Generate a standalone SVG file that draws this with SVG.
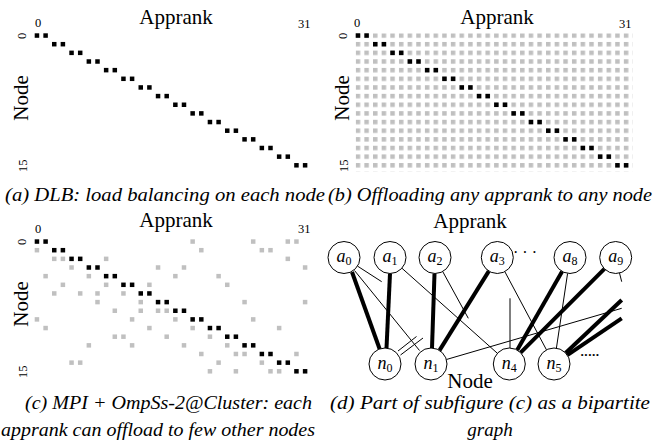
<svg xmlns="http://www.w3.org/2000/svg" width="655" height="446" viewBox="0 0 655 446" font-family="'Liberation Serif', 'Times New Roman', Times, Tinos, 'Noto Serif', 'DejaVu Serif', serif">
  <style>
    text { font-family: 'Liberation Serif', 'Times New Roman', Times, Tinos, 'Noto Serif', 'DejaVu Serif', serif; fill: #000; }
    .title { font-size: 21px; text-anchor: middle; }
    .num { font-size: 12.5px; }
    .cap { font-size: 19px; font-style: italic; }
    .g { fill: #c0c0c0; }
    .k { fill: #000; }
    .node circle { fill: #fff; stroke: #000; stroke-width: 1; }
    .node text { font-size: 18px; font-style: italic; text-anchor: middle; }
    .node tspan.sub { font-size: 12px; font-style: normal; }
    .thin { stroke: #000; stroke-width: 1; fill: none; }
    .thick { stroke: #000; stroke-width: 4; fill: none; }
  </style>
  <defs>
    <rect id="c" width="0.52" height="0.52"/>
    <pattern id="grid" patternUnits="userSpaceOnUse" width="1" height="1">
      <rect width="0.52" height="0.52" fill="#c0c0c0"/>
    </pattern>
  </defs>
  <rect width="655" height="446" fill="#fff"/>

  <!-- (a) DLB -->
  <g id="panel-a">
    <text class="title" x="176" y="24">Apprank</text>
    <text class="num" x="35" y="27">0</text>
    <text class="num" x="298" y="28">31</text>
    <text class="num" transform="translate(26,39) rotate(-90)">0</text>
    <text class="num" transform="translate(27,172) rotate(-90)">15</text>
    <text class="title" transform="translate(28,98) rotate(-90)">Node</text>
    <g class="k" transform="translate(34.7,33.3) scale(8.65)">
      <use href="#c" x="0" y="0"/><use href="#c" x="1" y="0"/>
      <use href="#c" x="2" y="1"/><use href="#c" x="3" y="1"/>
      <use href="#c" x="4" y="2"/><use href="#c" x="5" y="2"/>
      <use href="#c" x="6" y="3"/><use href="#c" x="7" y="3"/>
      <use href="#c" x="8" y="4"/><use href="#c" x="9" y="4"/>
      <use href="#c" x="10" y="5"/><use href="#c" x="11" y="5"/>
      <use href="#c" x="12" y="6"/><use href="#c" x="13" y="6"/>
      <use href="#c" x="14" y="7"/><use href="#c" x="15" y="7"/>
      <use href="#c" x="16" y="8"/><use href="#c" x="17" y="8"/>
      <use href="#c" x="18" y="9"/><use href="#c" x="19" y="9"/>
      <use href="#c" x="20" y="10"/><use href="#c" x="21" y="10"/>
      <use href="#c" x="22" y="11"/><use href="#c" x="23" y="11"/>
      <use href="#c" x="24" y="12"/><use href="#c" x="25" y="12"/>
      <use href="#c" x="26" y="13"/><use href="#c" x="27" y="13"/>
      <use href="#c" x="28" y="14"/><use href="#c" x="29" y="14"/>
      <use href="#c" x="30" y="15"/><use href="#c" x="31" y="15"/>
    </g>
    <text class="cap" x="5" y="201" textLength="320" lengthAdjust="spacingAndGlyphs">(a) DLB: load balancing on each node</text>
  </g>

  <!-- (b) offloading anywhere -->
  <g id="panel-b">
    <text class="title" x="497" y="24">Apprank</text>
    <text class="num" x="354" y="27">0</text>
    <text class="num" x="619" y="28">31</text>
    <text class="num" transform="translate(347,39) rotate(-90)">0</text>
    <text class="num" transform="translate(348,172) rotate(-90)">15</text>
    <text class="title" transform="translate(349,98) rotate(-90)">Node</text>
    <g transform="translate(355.7,33.3) scale(8.65)">
      <rect width="32" height="16" fill="url(#grid)"/>
      <g class="k">
        <use href="#c" x="0" y="0"/><use href="#c" x="1" y="0"/>
        <use href="#c" x="2" y="1"/><use href="#c" x="3" y="1"/>
        <use href="#c" x="4" y="2"/><use href="#c" x="5" y="2"/>
        <use href="#c" x="6" y="3"/><use href="#c" x="7" y="3"/>
        <use href="#c" x="8" y="4"/><use href="#c" x="9" y="4"/>
        <use href="#c" x="10" y="5"/><use href="#c" x="11" y="5"/>
        <use href="#c" x="12" y="6"/><use href="#c" x="13" y="6"/>
        <use href="#c" x="14" y="7"/><use href="#c" x="15" y="7"/>
        <use href="#c" x="16" y="8"/><use href="#c" x="17" y="8"/>
        <use href="#c" x="18" y="9"/><use href="#c" x="19" y="9"/>
        <use href="#c" x="20" y="10"/><use href="#c" x="21" y="10"/>
        <use href="#c" x="22" y="11"/><use href="#c" x="23" y="11"/>
        <use href="#c" x="24" y="12"/><use href="#c" x="25" y="12"/>
        <use href="#c" x="26" y="13"/><use href="#c" x="27" y="13"/>
        <use href="#c" x="28" y="14"/><use href="#c" x="29" y="14"/>
        <use href="#c" x="30" y="15"/><use href="#c" x="31" y="15"/>
      </g>
    </g>
    <text class="cap" x="328" y="201" textLength="324" lengthAdjust="spacingAndGlyphs">(b) Offloading any apprank to any node</text>
  </g>

  <!-- (c) MPI + OmpSs-2@Cluster -->
  <g id="panel-c">
    <text class="title" x="176" y="227">Apprank</text>
    <text class="num" x="35" y="233">0</text>
    <text class="num" x="298" y="233">31</text>
    <text class="num" transform="translate(26,245) rotate(-90)">0</text>
    <text class="num" transform="translate(27,378) rotate(-90)">15</text>
    <text class="title" transform="translate(28,304) rotate(-90)">Node</text>
    <g transform="translate(34.7,239.3) scale(8.65)">
      <g class="g">
        <use href="#c" x="18" y="0"/><use href="#c" x="25" y="0"/><use href="#c" x="29" y="0"/><use href="#c" x="30" y="0"/>
        <use href="#c" x="0" y="1"/><use href="#c" x="19" y="1"/><use href="#c" x="26" y="1"/><use href="#c" x="27" y="1"/>
        <use href="#c" x="2" y="2"/><use href="#c" x="3" y="2"/><use href="#c" x="8" y="2"/><use href="#c" x="29" y="2"/>
        <use href="#c" x="4" y="3"/><use href="#c" x="14" y="3"/><use href="#c" x="17" y="3"/><use href="#c" x="31" y="3"/>
        <use href="#c" x="1" y="4"/><use href="#c" x="6" y="4"/><use href="#c" x="16" y="4"/><use href="#c" x="21" y="4"/>
        <use href="#c" x="3" y="5"/><use href="#c" x="8" y="5"/><use href="#c" x="13" y="5"/><use href="#c" x="22" y="5"/>
        <use href="#c" x="2" y="6"/><use href="#c" x="5" y="6"/><use href="#c" x="7" y="6"/><use href="#c" x="10" y="6"/>
        <use href="#c" x="7" y="7"/><use href="#c" x="12" y="7"/><use href="#c" x="24" y="7"/><use href="#c" x="31" y="7"/>
        <use href="#c" x="9" y="8"/><use href="#c" x="12" y="8"/><use href="#c" x="14" y="8"/><use href="#c" x="15" y="8"/>
        <use href="#c" x="0" y="9"/><use href="#c" x="11" y="9"/><use href="#c" x="16" y="9"/><use href="#c" x="25" y="9"/>
        <use href="#c" x="1" y="10"/><use href="#c" x="13" y="10"/><use href="#c" x="18" y="10"/><use href="#c" x="28" y="10"/>
        <use href="#c" x="9" y="11"/><use href="#c" x="10" y="11"/><use href="#c" x="15" y="11"/><use href="#c" x="20" y="11"/>
        <use href="#c" x="6" y="12"/><use href="#c" x="11" y="12"/><use href="#c" x="17" y="12"/><use href="#c" x="22" y="12"/>
        <use href="#c" x="19" y="13"/><use href="#c" x="23" y="13"/><use href="#c" x="24" y="13"/><use href="#c" x="30" y="13"/>
        <use href="#c" x="4" y="14"/><use href="#c" x="5" y="14"/><use href="#c" x="21" y="14"/><use href="#c" x="26" y="14"/>
        <use href="#c" x="20" y="15"/><use href="#c" x="23" y="15"/><use href="#c" x="27" y="15"/><use href="#c" x="28" y="15"/>
      </g>
      <g class="k">
        <use href="#c" x="0" y="0"/><use href="#c" x="1" y="0"/>
        <use href="#c" x="2" y="1"/><use href="#c" x="3" y="1"/>
        <use href="#c" x="4" y="2"/><use href="#c" x="5" y="2"/>
        <use href="#c" x="6" y="3"/><use href="#c" x="7" y="3"/>
        <use href="#c" x="8" y="4"/><use href="#c" x="9" y="4"/>
        <use href="#c" x="10" y="5"/><use href="#c" x="11" y="5"/>
        <use href="#c" x="12" y="6"/><use href="#c" x="13" y="6"/>
        <use href="#c" x="14" y="7"/><use href="#c" x="15" y="7"/>
        <use href="#c" x="16" y="8"/><use href="#c" x="17" y="8"/>
        <use href="#c" x="18" y="9"/><use href="#c" x="19" y="9"/>
        <use href="#c" x="20" y="10"/><use href="#c" x="21" y="10"/>
        <use href="#c" x="22" y="11"/><use href="#c" x="23" y="11"/>
        <use href="#c" x="24" y="12"/><use href="#c" x="25" y="12"/>
        <use href="#c" x="26" y="13"/><use href="#c" x="27" y="13"/>
        <use href="#c" x="28" y="14"/><use href="#c" x="29" y="14"/>
        <use href="#c" x="30" y="15"/><use href="#c" x="31" y="15"/>
      </g>
    </g>
    <text class="cap" x="25" y="409" textLength="287" lengthAdjust="spacingAndGlyphs">(c) MPI + OmpSs-2@Cluster: each</text>
    <text class="cap" x="1" y="436" textLength="314" lengthAdjust="spacingAndGlyphs">apprank can offload to few other nodes</text>
  </g>

  <!-- (d) bipartite graph -->
  <g id="panel-d">
    <text class="title" x="470" y="228">Apprank</text>
    <text class="title" x="470" y="388">Node</text>
    <g id="connectors">
      <line class="thick" x1="352" y1="272" x2="380" y2="350"/>
      <line class="thick" x1="390" y1="273.5" x2="386.5" y2="348"/>
      <line class="thick" x1="434.5" y1="273.5" x2="432" y2="348"/>
      <line class="thick" x1="488.8" y1="271.1" x2="439.5" y2="350.4"/>
      <line class="thin" x1="354.5" y1="270.5" x2="419.5" y2="350.5"/>
      <line class="thin" x1="357.5" y1="266.1" x2="381.7" y2="281.7"/>
      <line class="thin" x1="401.9" y1="268.2" x2="497.4" y2="353.3"/>
      <line class="thin" x1="442.7" y1="271.5" x2="468.3" y2="318.3"/>
      <line class="thin" x1="446.4" y1="359.5" x2="621.7" y2="308.3"/>
      <line class="thin" x1="398" y1="351" x2="416.5" y2="336.5"/>
      <line class="thin" x1="400.5" y1="355" x2="423" y2="338"/>
      <line class="thin" x1="504.8" y1="271.6" x2="546.5" y2="349.9"/>
      <line class="thin" x1="510" y1="298.3" x2="510" y2="348"/>
      <line class="thick" x1="562.1" y1="271.4" x2="517.2" y2="350.1"/>
      <line class="thick" x1="604.4" y1="268.8" x2="520.6" y2="352.7"/>
      <line class="thin" x1="567.6" y1="273.3" x2="556.4" y2="348.2"/>
      <line class="thin" x1="619.5" y1="273" x2="621.7" y2="281.7"/>
      <line class="thick" x1="565.6" y1="353" x2="621.7" y2="300"/>
      <line class="thick" x1="567.3" y1="355.1" x2="621.7" y2="318.3"/>
    </g>
    <g id="a0" class="node"><circle cx="344" cy="257.5" r="16"/><text x="344" y="262">a<tspan class="sub" dy="3">0</tspan></text></g>
    <g id="a1" class="node"><circle cx="390" cy="257.5" r="16"/><text x="390" y="262">a<tspan class="sub" dy="3">1</tspan></text></g>
    <g id="a2" class="node"><circle cx="435" cy="257.5" r="16"/><text x="435" y="262">a<tspan class="sub" dy="3">2</tspan></text></g>
    <g id="a3" class="node"><circle cx="497.3" cy="257.5" r="16"/><text x="497.3" y="262">a<tspan class="sub" dy="3">3</tspan></text></g>
    <g id="a8" class="node"><circle cx="570" cy="257.5" r="16"/><text x="570" y="262">a<tspan class="sub" dy="3">8</tspan></text></g>
    <g id="a9" class="node"><circle cx="615.7" cy="257.5" r="16"/><text x="615.7" y="262">a<tspan class="sub" dy="3">9</tspan></text></g>
    <g id="n0" class="node"><circle cx="385" cy="364" r="16"/><text x="385" y="368.5">n<tspan class="sub" dy="3">0</tspan></text></g>
    <g id="n1" class="node"><circle cx="431" cy="364" r="16"/><text x="431" y="368.5">n<tspan class="sub" dy="3">1</tspan></text></g>
    <g id="n4" class="node"><circle cx="509.3" cy="364" r="16"/><text x="509.3" y="368.5">n<tspan class="sub" dy="3">4</tspan></text></g>
    <g id="n5" class="node"><circle cx="554" cy="364" r="16"/><text x="554" y="368.5">n<tspan class="sub" dy="3">5</tspan></text></g>
    <text x="513" y="258" style="font-size:16px">· · ·</text>
    <text x="580" y="359" style="font-size:13px;font-weight:bold;letter-spacing:-0.5px">·····</text>
    <text class="cap" x="330" y="409" textLength="320" lengthAdjust="spacingAndGlyphs">(d) Part of subfigure (c) as a bipartite</text>
    <text class="cap" x="490" y="436" text-anchor="middle">graph</text>
  </g>
</svg>
